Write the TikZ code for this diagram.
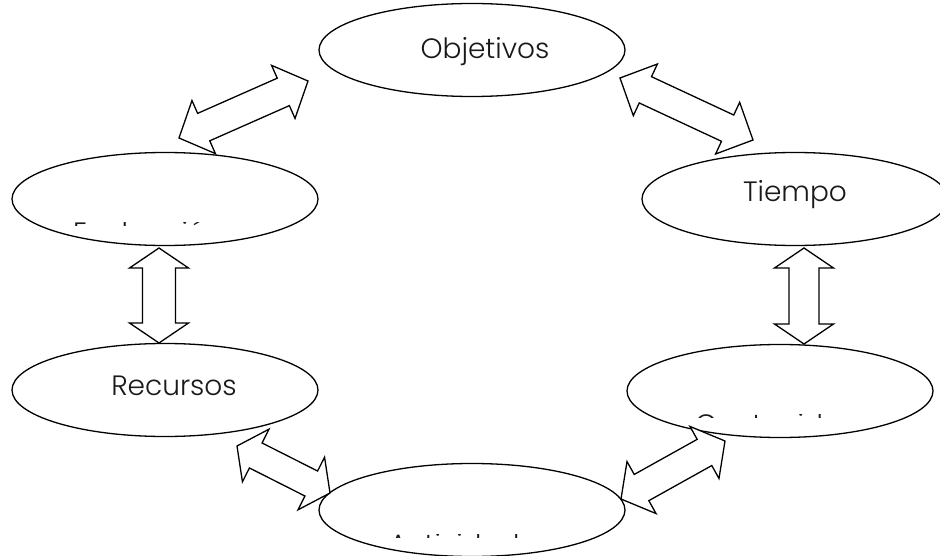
\documentclass[tikz,border=0pt]{standalone}
\usepackage{fontspec}
\setmainfont{Poppins}[UprightFont={* Light}]
\usetikzlibrary{calc,shapes.geometric}
\newcommand\dblarrow[5]{%
  \coordinate (da1) at ($(#1)!#3!(#2)$);
  \coordinate (da2) at ($(#2)!#3!(#1)$);
  \draw[blockarrow] (#1) -- ($(da1)!#4!90:(#2)$) -- ($(da1)!#5!90:(#2)$)
    -- ($(da2)!#5!-90:(#1)$) -- ($(da2)!#4!-90:(#1)$) -- (#2)
    -- ($(da2)!#4!90:(#1)$) -- ($(da2)!#5!90:(#1)$)
    -- ($(da1)!#5!-90:(#2)$) -- ($(da1)!#4!-90:(#2)$) -- cycle;}
\begin{document}
\begin{tikzpicture}[x=1pt,y=-1pt,
  bubble/.style={draw,line width=1.3pt,ellipse,fill=white,minimum width=306pt,minimum height=93pt,inner sep=0pt},
  lbl/.style={inner sep=0pt,font=\fontsize{28}{32}\selectfont,text=black!90},
  blockarrow/.style={draw,fill=white,line width=1.3pt,line join=miter}]
\useasboundingbox[fill=white] (0,0) rectangle (940,556);
% ellipses
\node[bubble] (obj) at (472,50) {};
\node[bubble] (eva) at (165,199) {};
\node[bubble] (tie) at (795,199) {};
\node[bubble] (rec) at (165,390) {};
\node[bubble] (con) at (780,391) {};
\node[bubble] (act) at (472,510) {};
% labels
\node[lbl,anchor=base] (objt) at (485,59) {Objetivos};
\node[lbl,anchor=base] (tiet) at (795,202) {Tiempo};
\node[lbl,anchor=base] (rect) at (174,395) {Recursos};
\begin{scope}
  \clip (68,223) rectangle (250,225.5);
  \node[lbl,anchor=base west] (evat) at (73,243) {Evaluación};
\end{scope}
\begin{scope}
  \clip (690,414.8) rectangle (880,417.3);
  \node[lbl,anchor=base west] (cont) at (695,434.8) {Contenidos};
\end{scope}
\begin{scope}
  \clip (384,534.8) rectangle (580,537.3);
  \node[lbl,anchor=base west] (actt) at (389,554.8) {Actividades};
\end{scope}
% arrow end points
\coordinate (tl1) at (179,138); \coordinate (tl2) at (308,81);
\coordinate (tr1) at (620,78);  \coordinate (tr2) at (753,140);
\coordinate (lv1) at (159,248); \coordinate (lv2) at (159,343);
\coordinate (rv1) at (804,248); \coordinate (rv2) at (804,344);
\coordinate (bl1) at (237,446); \coordinate (bl2) at (330,493);
\coordinate (br1) at (621,499); \coordinate (br2) at (725,441);
\dblarrow{tl1}{tl2}{27pt}{29pt}{15pt}
\dblarrow{tr1}{tr2}{28pt}{28.5pt}{14.5pt}
\dblarrow{lv1}{lv2}{20pt}{29.5pt}{16.5pt}
\dblarrow{rv1}{rv2}{20pt}{29.5pt}{15pt}
\dblarrow{bl1}{bl2}{21pt}{29.5pt}{14pt}
\dblarrow{br1}{br2}{23.5pt}{29.8pt}{15pt}
\end{tikzpicture}
\end{document}
